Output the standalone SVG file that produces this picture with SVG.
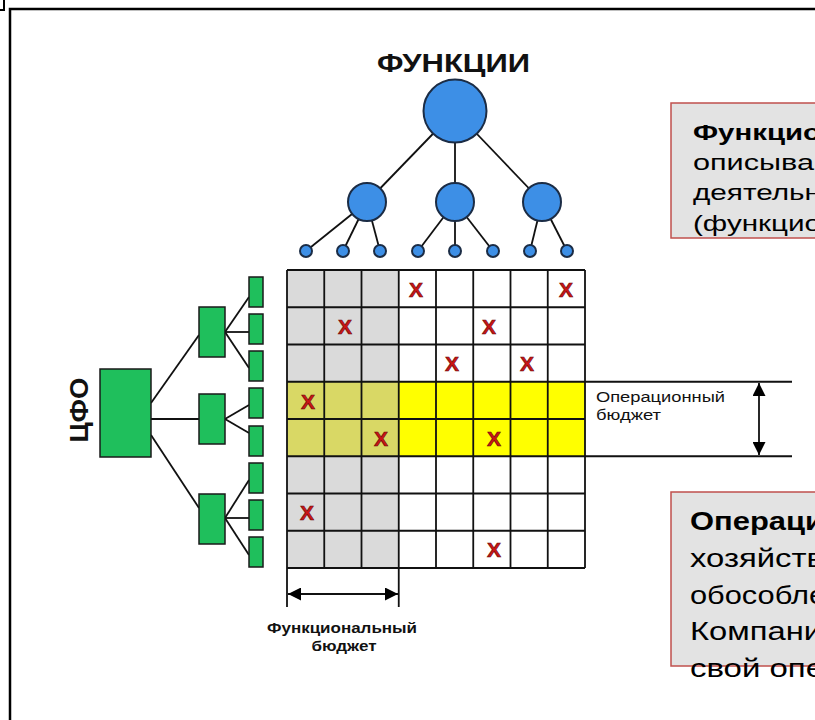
<svg xmlns="http://www.w3.org/2000/svg" width="815" height="720" viewBox="0 0 815 720">
<defs>
<style>
.frame{fill:none;stroke:#000;stroke-width:2.5}
.ln{stroke:#111;stroke-width:1.8;fill:none}
.circ{fill:#3d8fe6;stroke:#1b2c45;stroke-width:2}
.grn{fill:#1fbf5c;stroke:#1a1a1a;stroke-width:1.5}
.grid{stroke:#111;stroke-width:1.8;fill:none}
.x{font-family:"Liberation Sans",Arial,sans-serif;font-weight:bold;font-size:21px;fill:#cc1515;stroke:#6a0a0a;stroke-width:0.6;text-anchor:middle}
.lbl{font-family:"Liberation Sans",Arial,sans-serif;fill:#111}
.box{fill:#e3e3e3;stroke:#c0504d;stroke-width:1.5}
.bt{font-family:"Liberation Sans",Arial,sans-serif;fill:#000}
</style>
<marker id="ah" viewBox="0 0 10 10" refX="10" refY="5" markerWidth="13" markerHeight="13" markerUnits="userSpaceOnUse" orient="auto-start-reverse">
<path d="M0,0 L10,5 L0,10 Z" fill="#000"/>
</marker>
</defs>
<rect width="815" height="720" fill="#fff"/>
<path class="frame" d="M10,720 V9 H815"/>
<path d="M4,0 V10 H0" fill="none" stroke="#000" stroke-width="2"/>

<g id="title">
<text class="lbl" x="377" y="72" font-size="25" font-weight="bold" textLength="153" lengthAdjust="spacingAndGlyphs">ФУНКЦИИ</text>
</g>

<g id="connectors">
<line class="ln" x1="455" y1="111" x2="367" y2="202"/>
<line class="ln" x1="455" y1="111" x2="455" y2="202"/>
<line class="ln" x1="455" y1="111" x2="542" y2="202"/>
<line class="ln" x1="367" y1="202" x2="306" y2="251"/>
<line class="ln" x1="367" y1="202" x2="343" y2="251"/>
<line class="ln" x1="367" y1="202" x2="380" y2="251"/>
<line class="ln" x1="455" y1="202" x2="418" y2="251"/>
<line class="ln" x1="455" y1="202" x2="455" y2="251"/>
<line class="ln" x1="455" y1="202" x2="493" y2="251"/>
<line class="ln" x1="542" y1="202" x2="530" y2="251"/>
<line class="ln" x1="542" y1="202" x2="567" y2="251"/>
<line class="ln" x1="151" y1="403" x2="199" y2="335"/>
<line class="ln" x1="151" y1="419" x2="199" y2="419"/>
<line class="ln" x1="151" y1="435" x2="199" y2="508"/>
<line class="ln" x1="225" y1="332" x2="249" y2="297"/>
<line class="ln" x1="225" y1="332" x2="249" y2="332"/>
<line class="ln" x1="225" y1="332" x2="249" y2="368"/>
<line class="ln" x1="225" y1="419" x2="249" y2="405"/>
<line class="ln" x1="225" y1="419" x2="249" y2="433"/>
<line class="ln" x1="225" y1="518" x2="249" y2="480"/>
<line class="ln" x1="225" y1="518" x2="249" y2="518"/>
<line class="ln" x1="225" y1="518" x2="249" y2="555"/>
</g>

<g id="func-root"><circle class="circ" cx="455" cy="111" r="31.5"/></g>
<g id="func-a"><circle class="circ" cx="367" cy="202" r="19"/></g>
<g id="func-b"><circle class="circ" cx="455" cy="202" r="19"/></g>
<g id="func-c"><circle class="circ" cx="542" cy="202" r="19"/></g>
<g id="func-leaves">
<circle class="circ" cx="306" cy="251" r="6"/>
<circle class="circ" cx="343" cy="251" r="6"/>
<circle class="circ" cx="380" cy="251" r="6"/>
<circle class="circ" cx="418" cy="251" r="6"/>
<circle class="circ" cx="455" cy="251" r="6"/>
<circle class="circ" cx="493" cy="251" r="6"/>
<circle class="circ" cx="530" cy="251" r="6"/>
<circle class="circ" cx="567" cy="251" r="6"/>
</g>

<g id="cfo-label">
<text class="lbl" transform="translate(88,410) rotate(-90)" x="0" y="0" font-size="26" font-weight="bold" text-anchor="middle" textLength="65" lengthAdjust="spacingAndGlyphs">ЦФО</text>
</g>
<g id="cfo-root"><rect class="grn" x="100" y="369" width="51" height="88"/></g>
<g id="cfo-a"><rect class="grn" x="199" y="307" width="26" height="50"/></g>
<g id="cfo-b"><rect class="grn" x="199" y="394" width="26" height="50"/></g>
<g id="cfo-c"><rect class="grn" x="199" y="494" width="26" height="50"/></g>
<g id="cfo-leaves">
<rect class="grn" x="249" y="277" width="14" height="30"/>
<rect class="grn" x="249" y="314" width="14" height="30"/>
<rect class="grn" x="249" y="351" width="14" height="30"/>
<rect class="grn" x="249" y="388" width="14" height="30"/>
<rect class="grn" x="249" y="426" width="14" height="30"/>
<rect class="grn" x="249" y="463" width="14" height="30"/>
<rect class="grn" x="249" y="500" width="14" height="30"/>
<rect class="grn" x="249" y="537" width="14" height="30"/>
</g>

<g id="matrix">
<rect x="287" y="270" width="111.75" height="298" fill="#dadada"/>
<rect x="398.75" y="381.75" width="186.25" height="74.5" fill="#ffff00"/>
<rect x="287" y="381.75" width="111.75" height="74.5" fill="#d9d865"/>
<g class="grid">
<path d="M287,270 V568 M324.25,270 V568 M361.5,270 V568 M398.75,270 V568 M436,270 V568 M473.25,270 V568 M510.5,270 V568 M547.75,270 V568 M585,270 V568"/>
<path d="M287,270 H585 M287,307.25 H585 M287,344.5 H585 M287,381.75 H792 M287,419 H585 M287,456.25 H792 M287,493.5 H585 M287,530.75 H585 M287,568 H585"/>
</g>
<text class="x" x="416" y="297">X</text>
<text class="x" x="566" y="297">X</text>
<text class="x" x="345" y="334">X</text>
<text class="x" x="489" y="334">X</text>
<text class="x" x="452" y="371">X</text>
<text class="x" x="527" y="371">X</text>
<text class="x" x="308" y="409">X</text>
<text class="x" x="381" y="446">X</text>
<text class="x" x="494" y="446">X</text>
<text class="x" x="307" y="520">X</text>
<text class="x" x="494" y="557">X</text>
</g>

<g id="op-budget">
<line class="ln" x1="759" y1="383" x2="759" y2="455" marker-start="url(#ah)" marker-end="url(#ah)"/>
<text class="lbl" x="596" y="402" font-size="14" textLength="129" lengthAdjust="spacingAndGlyphs">Операционный</text>
<text class="lbl" x="596" y="420" font-size="14" textLength="65" lengthAdjust="spacingAndGlyphs">бюджет</text>
</g>

<g id="func-budget">
<path class="ln" d="M287,568 V607 M398.75,568 V607"/>
<line class="ln" x1="288" y1="594" x2="398" y2="594" marker-start="url(#ah)" marker-end="url(#ah)"/>
<text class="lbl" x="342" y="633" font-size="15" font-weight="bold" text-anchor="middle" textLength="150" lengthAdjust="spacingAndGlyphs">Функциональный</text>
<text class="lbl" x="344" y="651" font-size="15" font-weight="bold" text-anchor="middle" textLength="65" lengthAdjust="spacingAndGlyphs">бюджет</text>
</g>

<g id="note-functional">
<rect class="box" x="671" y="103" width="160" height="135"/>
<text class="bt" x="693" y="140" font-size="22" font-weight="bold" textLength="128" lengthAdjust="spacingAndGlyphs">Функцио</text>
<text class="bt" x="693" y="170" font-size="22" textLength="121" lengthAdjust="spacingAndGlyphs">описыва</text>
<text class="bt" x="693" y="200" font-size="22" textLength="128" lengthAdjust="spacingAndGlyphs">деятельн</text>
<text class="bt" x="693" y="231" font-size="22" textLength="128" lengthAdjust="spacingAndGlyphs">(функцио</text>
</g>

<g id="note-operational">
<rect class="box" x="671" y="492" width="160" height="174"/>
<text class="bt" x="690" y="530" font-size="26" font-weight="bold" textLength="134" lengthAdjust="spacingAndGlyphs">Операци</text>
<text class="bt" x="690" y="567" font-size="26" textLength="134" lengthAdjust="spacingAndGlyphs">хозяйств</text>
<text class="bt" x="690" y="604" font-size="26" textLength="136" lengthAdjust="spacingAndGlyphs">обособле</text>
<text class="bt" x="690" y="640" font-size="26" textLength="132" lengthAdjust="spacingAndGlyphs">Компани</text>
<text class="bt" x="690" y="677" font-size="26" textLength="134" lengthAdjust="spacingAndGlyphs">свой опе</text>
</g>
</svg>
